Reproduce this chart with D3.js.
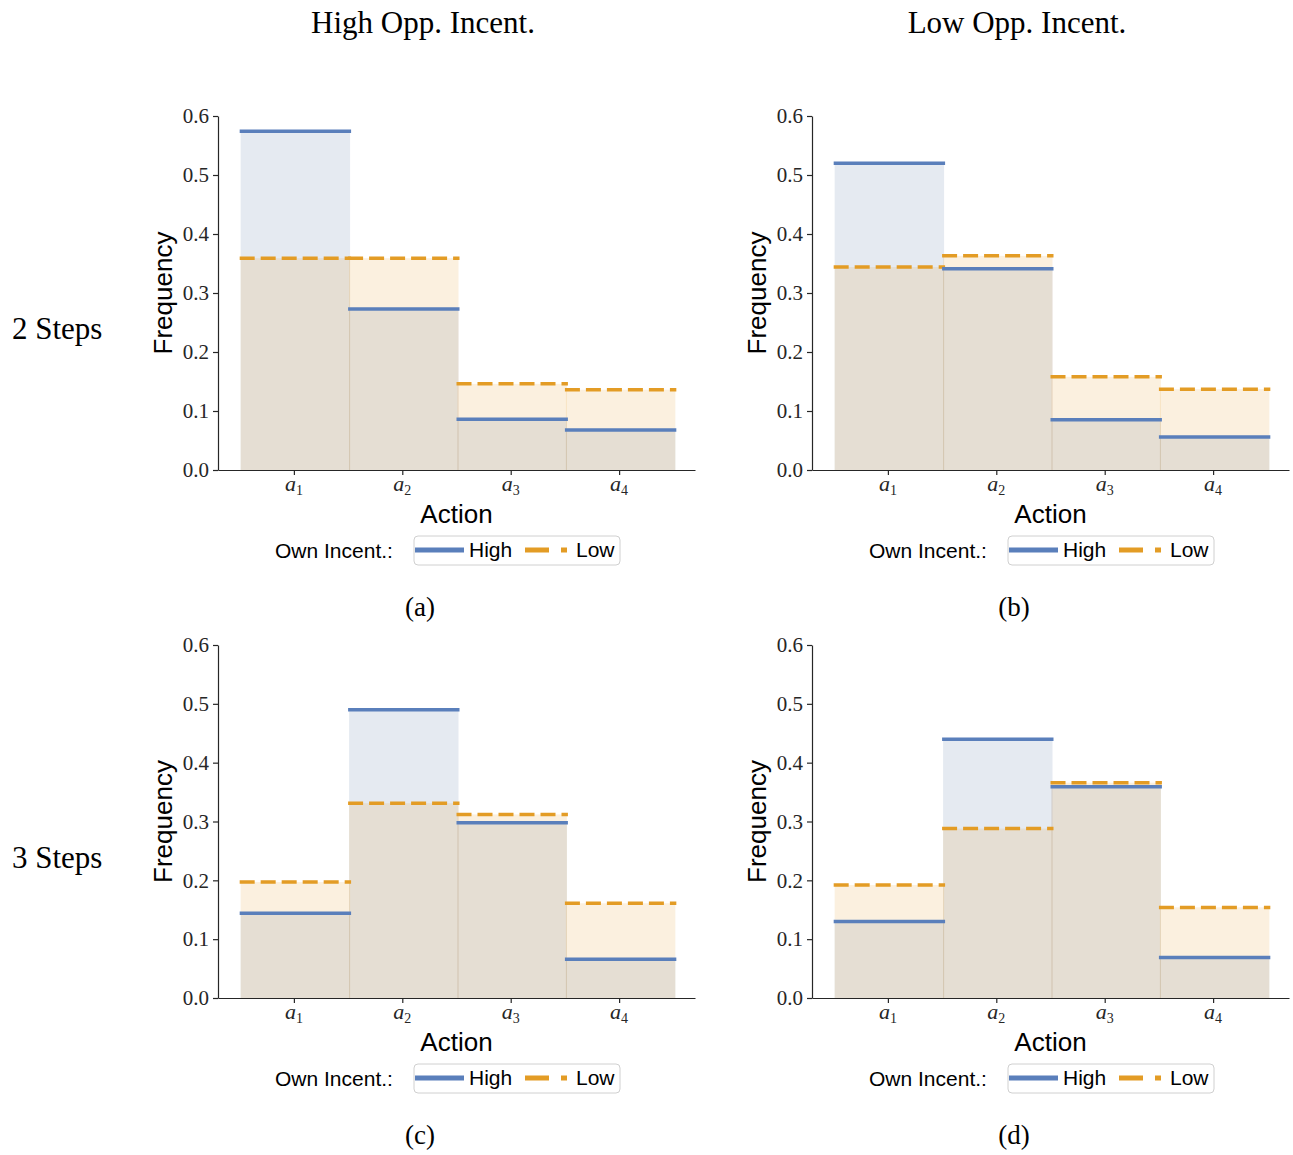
<!DOCTYPE html>
<html>
<head>
<meta charset="utf-8">
<script src="https://cdn.jsdelivr.net/npm/d3@7"></script>
<style>
  html, body { margin: 0; padding: 0; background: #fff; }
  svg { display: block; }
</style>
</head>
<body>
<svg id="chart" width="1293" height="1155"></svg>
<script>
// ---------- data ----------
const actions = ["1", "2", "3", "4"];           // subscripts of a_i
const yTicks = [0, 0.1, 0.2, 0.3, 0.4, 0.5, 0.6];
const colTitles = ["High Opp. Incent.", "Low Opp. Incent."];
const rowTitles = ["2 Steps", "3 Steps"];
const subCaptions = ["(a)", "(b)", "(c)", "(d)"];
const legendTitle = "Own Incent.:";
const seriesNames = ["High", "Low"];

// panel (a): 2 steps, high opp. incent.
const highA = [0.574, 0.273, 0.086, 0.068];
const lowA  = [0.359, 0.359, 0.146, 0.136];
// panel (b): 2 steps, low opp. incent.
const highB = [0.520, 0.341, 0.085, 0.056];
const lowB  = [0.344, 0.363, 0.158, 0.137];
// panel (c): 3 steps, high opp. incent.
const highC = [0.144, 0.490, 0.298, 0.066];
const lowC  = [0.197, 0.331, 0.312, 0.161];
// panel (d): 3 steps, low opp. incent.
const highD = [0.130, 0.440, 0.359, 0.069];
const lowD  = [0.192, 0.288, 0.366, 0.154];

// ---------- styles ----------
const BLUE = "#5a7fbb";
const BLUE_FILL = "#5273a2";
const ORANGE = "#e39c25";
const AXIS = "#262626";
const SERIF = "'Liberation Serif', 'DejaVu Serif', serif";
const SANS = "'Liberation Sans', Arial, sans-serif";

const svg = d3.select("#chart");

const panels = [
  { high: highA, low: lowA, left: 218, right: 695, top: 116, bottom: 470, cap: subCaptions[0] },
  { high: highB, low: lowB, left: 812, right: 1289, top: 116, bottom: 470, cap: subCaptions[1] },
  { high: highC, low: lowC, left: 218, right: 695, top: 645, bottom: 998, cap: subCaptions[2] },
  { high: highD, low: lowD, left: 812, right: 1289, top: 645, bottom: 998, cap: subCaptions[3] }
];

function drawPanel(p) {
  const g = svg.append("g");
  const x = d3.scaleLinear().domain([0.3, 4.7]).range([p.left, p.right]);
  const y = d3.scaleLinear().domain([0, 0.6]).range([p.bottom, p.top]);

  const mk = (vals) => vals.map((v, i) => ({ x0: i + 0.5, x1: i + 1.5, v }));
  const hi = mk(p.high), lo = mk(p.low);

  // fills
  g.selectAll(null).data(hi).enter().append("rect")
    .attr("x", d => x(d.x0) + 1)
    .attr("width", d => x(d.x1) - x(d.x0) + 1)
    .attr("y", d => y(d.v))
    .attr("height", d => y(0) - y(d.v))
    .attr("fill", BLUE_FILL).attr("fill-opacity", 0.15);
  g.selectAll(null).data(lo).enter().append("rect")
    .attr("x", d => x(d.x0) + 1)
    .attr("width", d => x(d.x1) - x(d.x0) + 1)
    .attr("y", d => y(d.v))
    .attr("height", d => y(0) - y(d.v))
    .attr("fill", ORANGE).attr("fill-opacity", 0.15);

  // top lines
  g.selectAll(null).data(lo).enter().append("line")
    .attr("x1", d => x(d.x0)).attr("x2", d => x(d.x1) + 3)
    .attr("y1", d => y(d.v)).attr("y2", d => y(d.v))
    .attr("stroke", ORANGE).attr("stroke-width", 3.5)
    .attr("stroke-dasharray", "15,6");
  g.selectAll(null).data(hi).enter().append("line")
    .attr("x1", d => x(d.x0)).attr("x2", d => x(d.x1) + 3)
    .attr("y1", d => y(d.v)).attr("y2", d => y(d.v))
    .attr("stroke", BLUE).attr("stroke-width", 3.5);

  // axes
  const ya = d3.axisLeft(y).tickValues(yTicks).tickFormat(d3.format(".1f"))
    .tickSize(5).tickSizeOuter(0).tickPadding(4);
  const yg = g.append("g").attr("transform", `translate(${p.left},0)`).call(ya);
  const xa = d3.axisBottom(x).tickValues([1, 2, 3, 4]).tickFormat("")
    .tickSize(5).tickSizeOuter(0);
  const xg = g.append("g").attr("transform", `translate(0,${p.bottom})`).call(xa);
  [yg, xg].forEach(a => {
    a.select(".domain").attr("stroke", AXIS).attr("stroke-width", 1.2);
    a.selectAll(".tick line").attr("stroke", AXIS).attr("stroke-width", 1.2);
  });
  yg.selectAll(".tick text").attr("font-family", SERIF).attr("font-size", 21)
    .attr("fill", AXIS);

  // x tick labels a_i
  actions.forEach((s, i) => {
    const t = g.append("text")
      .attr("x", x(i + 1)).attr("y", p.bottom + 21)
      .attr("text-anchor", "middle")
      .attr("font-family", SERIF).attr("font-size", 22).attr("fill", AXIS);
    t.append("tspan").attr("font-style", "italic").text("a");
    t.append("tspan").attr("font-size", 14).attr("dy", 4).text(s);
  });

  const cx = (p.left + p.right) / 2;
  // axis labels
  g.append("text").attr("x", cx).attr("y", p.bottom + 53)
    .attr("text-anchor", "middle").attr("font-family", SANS).attr("font-size", 26)
    .attr("fill", "#000").text("Action");
  g.append("text")
    .attr("transform", `translate(${p.left - 46},${(p.top + p.bottom) / 2}) rotate(-90)`)
    .attr("text-anchor", "middle").attr("font-family", SANS).attr("font-size", 26)
    .attr("fill", "#000").text("Frequency");

  // legend
  const ly = p.bottom + 80;
  const lx = p.left + 57;
  g.append("text").attr("x", lx).attr("y", ly + 8)
    .attr("font-family", SANS).attr("font-size", 21).attr("fill", "#000").text(legendTitle);
  g.append("rect").attr("x", p.left + 196).attr("y", ly - 14).attr("width", 206).attr("height", 29)
    .attr("rx", 4).attr("fill", "#fff").attr("stroke", "#d0d0d0").attr("stroke-width", 1);
  g.append("line").attr("x1", p.left + 197).attr("x2", p.left + 246)
    .attr("y1", ly).attr("y2", ly).attr("stroke", BLUE).attr("stroke-width", 5);
  g.append("text").attr("x", p.left + 251).attr("y", ly + 7)
    .attr("font-family", SANS).attr("font-size", 21).attr("fill", "#000").text(seriesNames[0]);
  g.append("line").attr("x1", p.left + 307).attr("x2", p.left + 349)
    .attr("y1", ly).attr("y2", ly).attr("stroke", ORANGE).attr("stroke-width", 5)
    .attr("stroke-dasharray", "24,12");
  g.append("text").attr("x", p.left + 358).attr("y", ly + 7)
    .attr("font-family", SANS).attr("font-size", 21).attr("fill", "#000").text(seriesNames[1]);

  // sub-caption
  g.append("text").attr("x", p.left + 202).attr("y", p.bottom + 146)
    .attr("text-anchor", "middle").attr("font-family", SERIF).attr("font-size", 27)
    .attr("fill", "#000").text(p.cap);
}

panels.forEach(drawPanel);

// column titles
[423, 1017].forEach((cx, i) => {
  svg.append("text").attr("x", cx).attr("y", 33).attr("text-anchor", "middle")
    .attr("font-family", SERIF).attr("font-size", 31).attr("fill", "#000").text(colTitles[i]);
});
// row titles
[339, 868].forEach((cy, i) => {
  svg.append("text").attr("x", 12).attr("y", cy)
    .attr("font-family", SERIF).attr("font-size", 31).attr("fill", "#000").text(rowTitles[i]);
});
</script>
</body>
</html>
